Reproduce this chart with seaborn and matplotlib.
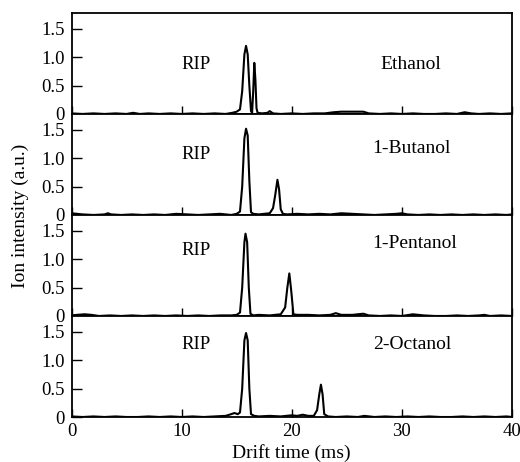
import matplotlib
matplotlib.use("Agg")
import matplotlib.pyplot as plt
import seaborn as sns
import pandas as pd

compounds = ["Ethanol", "1-Butanol", "1-Pentanol", "2-Octanol"]

ethanol_t = [0, 1, 2, 3, 4, 5, 5.6, 6.2, 7, 8, 9, 10, 11, 12, 13, 14, 14.6, 15.0, 15.3, 15.5,
             15.7, 15.85, 16.0, 16.15, 16.3, 16.4, 16.5, 16.6, 16.7, 16.8, 16.9, 17.3, 17.8,
             18.0, 18.3, 19, 20, 21, 22, 23, 23.8, 24.5, 25.5, 26.5, 27, 28, 29, 30, 31, 32,
             33, 34, 35, 35.7, 36.3, 37, 38, 39, 40]
ethanol_i = [0.01, 0.0, 0.01, 0.0, 0.01, 0.0, 0.02, 0.0, 0.01, 0.0, 0.01, 0.0, 0.01, 0.0, 0.01,
             0.0, 0.02, 0.04, 0.08, 0.4, 1.05, 1.2, 1.05, 0.5, 0.05, 0.02, 0.4, 0.9, 0.6, 0.1,
             0.02, 0.01, 0.02, 0.05, 0.01, 0.0, 0.01, 0.0, 0.01, 0.01, 0.03, 0.04, 0.04, 0.04,
             0.01, 0.0, 0.01, 0.0, 0.01, 0.0, 0.0, 0.01, 0.0, 0.03, 0.01, 0.0, 0.01, 0.0, 0.01]

butanol_t = [0, 0.5, 1, 2, 3, 3.3, 3.6, 4.5, 5.5, 6.5, 7.5, 8.5, 9.5, 10.5, 11.5, 12.5, 13.5,
             14.5, 15.0, 15.3, 15.5, 15.7, 15.85, 16.0, 16.15, 16.3, 16.5, 17.0, 17.5, 18.0,
             18.3, 18.5, 18.7, 18.85, 19.0, 19.2, 19.6, 20.5, 21.5, 22.5, 23.5, 24.5, 25.5,
             26.5, 27.5, 28.5, 29.5, 30.0, 30.5, 31.5, 32.5, 33.5, 34.5, 35.5, 36.5, 37.5,
             38.5, 39.5, 40]
butanol_i = [0.03, 0.02, 0.01, 0.0, 0.01, 0.03, 0.01, 0.0, 0.01, 0.0, 0.01, 0.0, 0.02, 0.01,
             0.0, 0.01, 0.02, 0.0, 0.02, 0.06, 0.5, 1.35, 1.52, 1.4, 0.6, 0.05, 0.02, 0.01,
             0.02, 0.03, 0.12, 0.35, 0.62, 0.45, 0.1, 0.02, 0.01, 0.02, 0.01, 0.02, 0.01, 0.03,
             0.02, 0.01, 0.0, 0.01, 0.02, 0.03, 0.01, 0.0, 0.01, 0.0, 0.01, 0.0, 0.01, 0.0,
             0.01, 0.0, 0.01]

pentanol_t = [0, 0.5, 1.2, 1.8, 2.5, 3.5, 4.5, 5.5, 6.5, 7.5, 8.5, 9.5, 10.5, 11.5, 12.5, 13.5,
              14.5, 15.0, 15.3, 15.5, 15.7, 15.8, 15.95, 16.1, 16.25, 16.5, 17.0, 18.0, 19.0,
              19.4, 19.6, 19.78, 19.95, 20.15, 20.5, 21.5, 22.5, 23.5, 24.0, 24.5, 25.5, 26.5,
              27.0, 28.0, 29.0, 30.0, 31.0, 32.0, 33.0, 34.0, 35.0, 36.0, 37.0, 37.5, 38.0,
              39.0, 40]
pentanol_i = [0.01, 0.02, 0.03, 0.02, 0.0, 0.01, 0.0, 0.01, 0.0, 0.01, 0.0, 0.01, 0.0, 0.01,
              0.0, 0.01, 0.01, 0.02, 0.06, 0.5, 1.3, 1.45, 1.3, 0.5, 0.04, 0.01, 0.02, 0.01,
              0.03, 0.15, 0.5, 0.75, 0.45, 0.03, 0.02, 0.02, 0.01, 0.02, 0.05, 0.02, 0.02, 0.04,
              0.01, 0.0, 0.01, 0.0, 0.03, 0.01, 0.0, 0.0, 0.01, 0.0, 0.01, 0.02, 0.0, 0.01, 0.0]

octanol_t = [0, 1, 2, 3, 4, 5, 6, 7, 8, 9, 10, 11, 12, 13, 14, 14.5, 14.8, 15.1, 15.3, 15.5,
             15.7, 15.85, 16.0, 16.15, 16.3, 16.6, 17.0, 18.0, 19.0, 20.0, 20.5, 21.0, 21.5,
             22.0, 22.3, 22.5, 22.65, 22.8, 22.95, 23.3, 24.0, 25.0, 26.0, 26.6, 27.5, 28.5,
             29.5, 30.5, 31.5, 32.5, 33.5, 34.5, 35.5, 36.5, 37.5, 38.5, 39.5, 40]
octanol_i = [0.01, 0.0, 0.01, 0.0, 0.01, 0.0, 0.0, 0.01, 0.0, 0.01, 0.0, 0.01, 0.0, 0.01, 0.02,
             0.05, 0.07, 0.05, 0.08, 0.5, 1.35, 1.48, 1.35, 0.5, 0.05, 0.02, 0.01, 0.02, 0.01,
             0.03, 0.02, 0.04, 0.02, 0.02, 0.12, 0.4, 0.57, 0.4, 0.05, 0.01, 0.0, 0.01, 0.0,
             0.02, 0.0, 0.01, 0.0, 0.01, 0.0, 0.01, 0.0, 0.0, 0.01, 0.0, 0.01, 0.0, 0.01, 0.0]

traces_t = [ethanol_t, butanol_t, pentanol_t, octanol_t]
traces_i = [ethanol_i, butanol_i, pentanol_i, octanol_i]

x_ticks = [0, 10, 20, 30, 40]
y_ticks = [0, 0.5, 1.0, 1.5]
y_tick_labels = ["0", "0.5", "1.0", "1.5"]

rows = []
for name, ts, vs in zip(compounds, traces_t, traces_i):
    for t, v in zip(ts, vs):
        rows.append({"compound": name, "t": t, "i": v})
df = pd.DataFrame(rows)

sns.set_theme(style="white")
plt.rcParams["font.family"] = ["Liberation Serif", "DejaVu Serif"]

fig, axes = plt.subplots(4, 1, figsize=(5.2, 4.62), dpi=100, sharex=True)
fig.subplots_adjust(left=0.1375, right=0.9846, top=0.972, bottom=0.0974, hspace=0)

rip_y = [0.88, 1.07, 1.15, 1.27]
name_y = [0.88, 1.18, 1.27, 1.27]
name_x = [30.8, 30.9, 31.2, 30.9]

fs_text = 14
fs_tick = 13.5

for k, (ax, name) in enumerate(zip(axes, compounds)):
    sub = df[df["compound"] == name]
    sns.lineplot(data=sub, x="t", y="i", ax=ax, color="black", linewidth=1.5,
                 estimator=None, sort=False)
    ax.set_xlim(0, 40)
    ax.set_ylim(0, 1.78)
    ax.set_xticks(x_ticks)
    ax.set_yticks(y_ticks)
    ax.set_yticklabels(y_tick_labels)
    ax.tick_params(axis="both", direction="in", colors="black", labelsize=fs_tick,
                   width=1.0, top=False, right=False, left=True, bottom=True)
    ax.tick_params(axis="y", length=7, pad=5)
    ax.tick_params(axis="x", length=6, pad=4)
    for sp in ax.spines.values():
        sp.set_color("black")
        sp.set_linewidth(1.3)
    ax.set_xlabel("")
    ax.set_ylabel("")
    ax.text(11.3, rip_y[k], "RIP", ha="center", va="center", fontsize=13.5, color="black")
    ax.text(name_x[k], name_y[k], name, ha="center", va="center", fontsize=fs_text, color="black")
    if k < 3:
        ax.tick_params(axis="x", labelbottom=False)

axes[-1].set_xlabel("Drift time (ms)", fontsize=fs_text, color="black", labelpad=3)
fig.text(0.039, 0.532, "Ion intensity (a.u.)", rotation=90, ha="center", va="center",
         fontsize=fs_text, color="black")

fig.savefig("out.png", dpi=100)
